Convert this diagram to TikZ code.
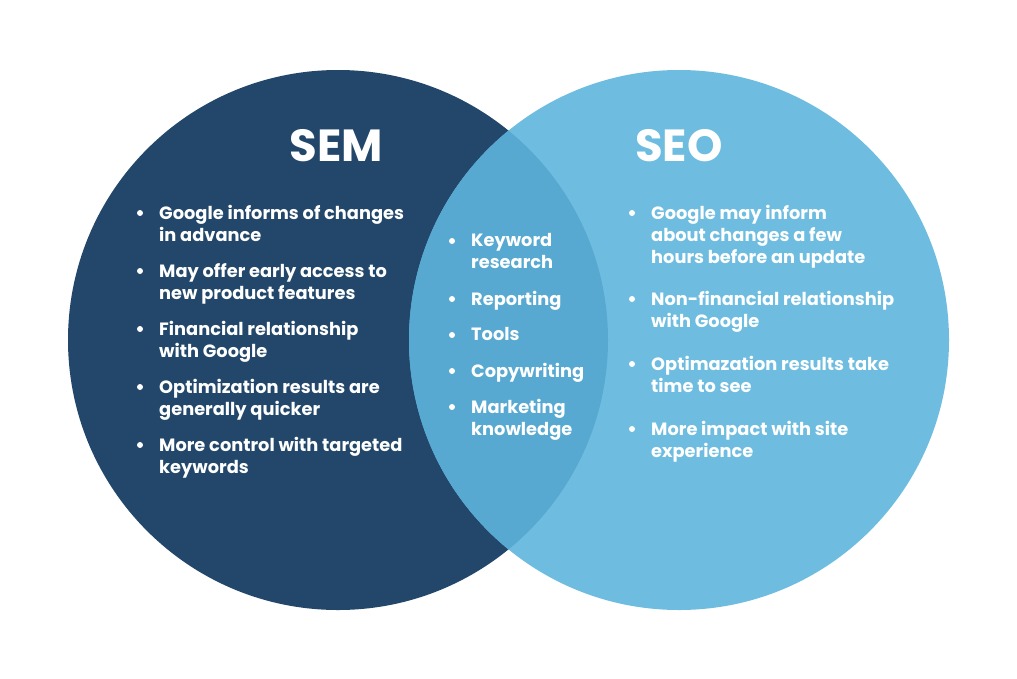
\documentclass[tikz,border=0pt]{standalone}
\usepackage{fontspec}
\setmainfont{Poppins}
\definecolor{navy}{HTML}{22476A}
\definecolor{sky}{HTML}{6EBDE0}
\definecolor{mid}{HTML}{57A9D1}
\begin{document}
\begin{tikzpicture}[x=1pt,y=-1pt,
  txt/.style={text=white,font=\fontsize{17.8}{22}\selectfont\bfseries,align=left,anchor=north west,inner sep=0pt},
  ttl/.style={text=white,font=\fontsize{45}{50}\selectfont\bfseries,inner sep=0pt},
  dot/.style={circle,fill=white,inner sep=0pt,minimum size=6pt}]
\useasboundingbox (0,0) rectangle (1017,678);
\fill[white] (0,0) rectangle (1017,678);
\fill[navy] (338,340) circle (270);
\fill[sky] (679,340) circle (270);
\begin{scope}
\clip (338,340) circle (270);
\fill[mid] (679,340) circle (270);
\end{scope}
\node[ttl] (sem) at (336,146) {SEM};
\node[ttl] (seo) at (679,146) {SEO};
\newcommand{\itm}[4]{\node[dot] (#1d) at (#2-19,#3) {}; \node[txt] (#1) at (#2,#3-8) {#4};}
\itm{a1}{159}{213}{Google informs of changes\\in advance}
\itm{a2}{159}{271}{May offer early access to\\new product features}
\itm{a3}{159}{329}{Financial relationship\\with Google}
\itm{a4}{159}{387}{Optimization results are\\generally quicker}
\itm{a5}{159}{445}{More control with targeted\\keywords}
\itm{b1}{471}{241}{Keyword\\research}
\itm{b2}{471}{299}{Reporting}
\itm{b3}{471}{335}{Tools}
\itm{b4}{471}{371}{Copywriting}
\itm{b5}{471}{407}{Marketing\\knowledge}
\itm{c1}{651}{213}{Google may inform\\about changes a few\\hours before an update}
\itm{c2}{651}{299}{Non-financial relationship\\with Google}
\itm{c3}{651}{364}{Optimazation results take\\time to see}
\itm{c4}{651}{429}{More impact with site\\experience}
\end{tikzpicture}
\end{document}
